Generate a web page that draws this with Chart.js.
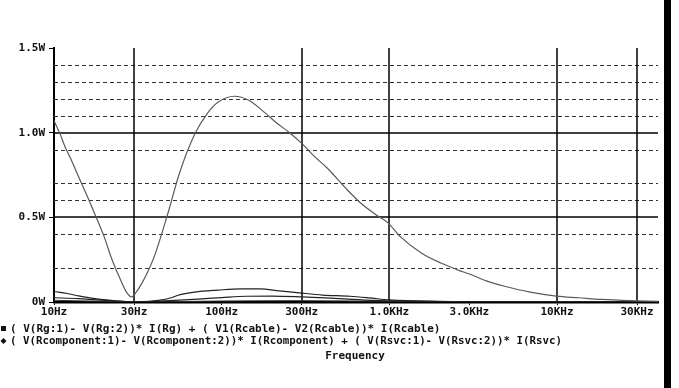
<!DOCTYPE html>
<html>
<head>
<meta charset="utf-8">
<script src="https://cdn.jsdelivr.net/npm/chart.js@4"></script>
<style>
  body { margin: 0; background: #fff; }
  #wrap { position: relative; width: 679px; height: 388px; }
  #edge { position: absolute; left: 664px; top: 0; width: 7px; height: 388px; background: #000; }
</style>
</head>
<body>
<div id="wrap">
  <canvas id="powerChart" width="679" height="388"></canvas>
  <div id="edge"></div>
</div>
<script>
// big trace
const mainFreq = [10, 10.9, 11.6, 12.8, 14.3, 15.7, 17.5, 20, 22, 24.7, 27, 29, 31, 33.4, 36.3, 40, 48, 56, 69, 83, 95, 119, 146, 180, 211, 254, 298, 357, 427, 540, 682, 848, 973, 1180, 1550, 2030, 2550, 3000, 3900, 5000, 6800, 9900, 13500, 18500, 27000, 40000];
const mainPower = [1.07, 0.99, 0.92, 0.83, 0.72, 0.63, 0.52, 0.38, 0.26, 0.14, 0.06, 0.03, 0.06, 0.11, 0.18, 0.28, 0.53, 0.76, 0.99, 1.12, 1.18, 1.215, 1.19, 1.12, 1.06, 1.0, 0.94, 0.86, 0.79, 0.68, 0.58, 0.51, 0.47, 0.38, 0.29, 0.23, 0.19, 0.165, 0.12, 0.09, 0.06, 0.035, 0.025, 0.015, 0.008, 0.004];

// small traces near 0W
const smallFreq1 = [10, 12, 14, 18, 24, 28, 33, 42, 50, 55, 69, 95, 130, 170, 220, 290, 400, 580, 760, 1000, 2000, 5000, 10000, 40000];
const smallPower1 = [0.062, 0.05, 0.036, 0.018, 0.006, 0.002, 0.002, 0.01, 0.025, 0.04, 0.058, 0.07, 0.078, 0.077, 0.066, 0.054, 0.041, 0.034, 0.024, 0.012, 0.004, 0.002, 0.001, 0.0];
const smallFreq2 = [10, 14, 18, 24, 30, 40, 60, 80, 100, 140, 200, 300, 500, 800, 1200, 3000, 10000, 40000];
const smallPower2 = [0.025, 0.02, 0.012, 0.005, 0.001, 0.004, 0.012, 0.02, 0.026, 0.034, 0.035, 0.03, 0.02, 0.01, 0.005, 0.002, 0.001, 0];
const smallFreq3 = [10, 20, 30, 60, 100, 300, 1000, 3000, 10000, 40000];
const smallPower3 = [0.01, 0.004, 0.0, 0.003, 0.006, 0.008, 0.004, 0.002, 0.001, 0];

const xTickValues = [10, 30, 100, 300, 1000, 3000, 10000, 30000];
const xTickLabels = ['10Hz', '30Hz', '100Hz', '300Hz', '1.0KHz', '3.0KHz', '10KHz', '30KHz'];
const yTickValues = [0, 0.5, 1.0, 1.5];
const yTickLabels = ['0W', '0.5W', '1.0W', '1.5W'];
const legendLines = [
    '( V(Rg:1)- V(Rg:2))* I(Rg) + ( V1(Rcable)- V2(Rcable))* I(Rcable)',
    '( V(Rcomponent:1)- V(Rcomponent:2))* I(Rcomponent) + ( V(Rsvc:1)- V(Rsvc:2))* I(Rsvc)'
];
const xTitle = 'Frequency';

// grid as it shows on the plot
const dashedLevels = [0.2, 0.4, 0.6, 0.7, 0.9, 1.1, 1.2, 1.3, 1.4];
const solidLevels = [0.5, 1.0];
const solidFreqs = [30, 300, 1000, 10000, 30000];

const FONT = 'bold 11px "DejaVu Sans Mono", monospace';

const toPoints = (xs, ys) => xs.map((f, i) => ({ x: f, y: ys[i] }));

const gridLines = {
    id: 'gridLines',
    beforeDatasetsDraw(chart) {
        const { ctx, chartArea: a, scales: { x, y } } = chart;
        ctx.save();
        ctx.strokeStyle = '#333';
        ctx.lineWidth = 1;
        ctx.setLineDash([4, 3]);
        dashedLevels.forEach(v => {
            const py = Math.round(y.getPixelForValue(v)) + 0.5;
            ctx.beginPath(); ctx.moveTo(a.left, py); ctx.lineTo(a.right, py); ctx.stroke();
        });
        ctx.setLineDash([]);
        ctx.strokeStyle = '#000';
        ctx.lineWidth = 1.5;
        solidLevels.forEach(v => {
            const py = Math.round(y.getPixelForValue(v));
            ctx.beginPath(); ctx.moveTo(a.left, py); ctx.lineTo(a.right, py); ctx.stroke();
        });
        solidFreqs.forEach(f => {
            const px = Math.round(x.getPixelForValue(f));
            ctx.beginPath(); ctx.moveTo(px, a.top); ctx.lineTo(px, a.bottom); ctx.stroke();
        });
        ctx.restore();
    }
};

const legendText = {
    id: 'legendText',
    afterDraw(chart) {
        const { ctx } = chart;
        ctx.save();
        ctx.font = FONT;
        ctx.fillStyle = '#111';
        ctx.textBaseline = 'middle';
        ctx.textAlign = 'left';
        ctx.fillText(legendLines[0], 10, 329, 455);
        ctx.fillText(legendLines[1], 10, 341, 552);
        // trace markers
        ctx.fillRect(1, 326, 5, 5);
        ctx.beginPath();
        ctx.moveTo(3.5, 338); ctx.lineTo(6.5, 341); ctx.lineTo(3.5, 344); ctx.lineTo(0.5, 341);
        ctx.closePath(); ctx.fill();
        ctx.textAlign = 'center';
        ctx.fillText(xTitle, 355, 356);
        ctx.restore();
    }
};

new Chart(document.getElementById('powerChart'), {
    type: 'line',
    data: {
        datasets: [
            { data: toPoints(mainFreq, mainPower), borderColor: '#5a5a5a', borderWidth: 1.2 },
            { data: toPoints(smallFreq1, smallPower1), borderColor: '#222', borderWidth: 1.2 },
            { data: toPoints(smallFreq2, smallPower2), borderColor: '#222', borderWidth: 1.2 },
            { data: toPoints(smallFreq3, smallPower3), borderColor: '#333', borderWidth: 1 }
        ]
    },
    options: {
        responsive: false,
        animation: false,
        events: [],
        layout: { padding: { left: 0, right: 21, top: 48, bottom: 0 } },
        elements: {
            point: { radius: 0 },
            line: { cubicInterpolationMode: 'monotone', fill: false }
        },
        plugins: { legend: { display: false }, tooltip: { enabled: false } },
        scales: {
            x: {
                type: 'logarithmic',
                min: 10,
                max: 40000,
                afterBuildTicks: s => { s.ticks = xTickValues.map(v => ({ value: v })); },
                afterFit: s => { s.height = 86; },
                ticks: {
                    autoSkip: false,
                    maxRotation: 0,
                    padding: 1,
                    color: '#111',
                    font: { family: '"DejaVu Sans Mono", monospace', size: 11, weight: 'bold' },
                    callback: (v, i) => xTickLabels[i]
                },
                grid: { drawOnChartArea: false, drawTicks: true, tickLength: 3, color: '#000' },
                border: { display: true, color: '#000', width: 2.5 }
            },
            y: {
                min: 0,
                max: 1.5,
                afterBuildTicks: s => { s.ticks = yTickValues.map(v => ({ value: v })); },
                afterFit: s => { s.width = 54; },
                ticks: {
                    padding: 4,
                    color: '#111',
                    font: { family: '"DejaVu Sans Mono", monospace', size: 11, weight: 'bold' },
                    callback: (v, i) => yTickLabels[i]
                },
                grid: { drawOnChartArea: false, drawTicks: true, tickLength: 5, color: '#000' },
                border: { display: true, color: '#000', width: 2 }
            }
        }
    },
    plugins: [gridLines, legendText]
});
</script>
</body>
</html>
